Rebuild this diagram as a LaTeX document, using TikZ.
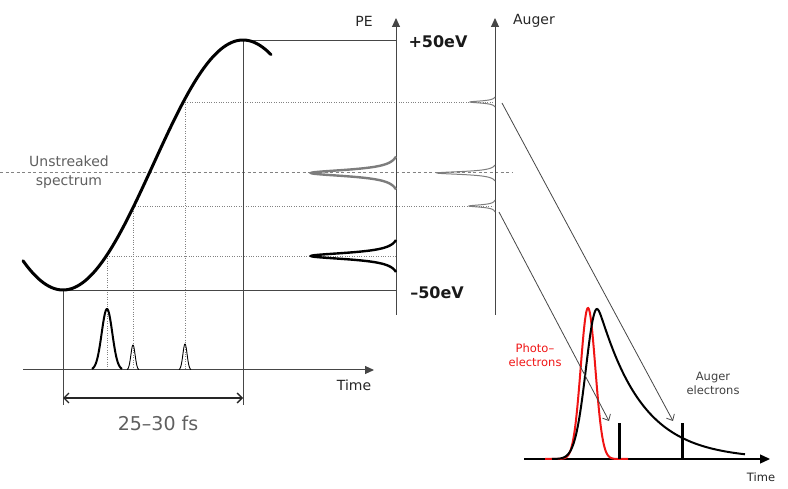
\documentclass[tikz,border=0pt]{standalone}
\usepackage{fontspec}
\setmainfont{DejaVu Sans}
\usetikzlibrary{arrows.meta}
\definecolor{txtgray}{RGB}{95,95,95}
\definecolor{linegray}{RGB}{70,70,70}
\definecolor{peakgray}{RGB}{125,125,125}
\definecolor{dotgray}{RGB}{130,130,130}
\definecolor{pered}{RGB}{240,20,20}
\begin{document}
\begin{tikzpicture}[x=1pt,y=-1pt,
  declare function={pk(\t,\w,\e)=(1/(1+(\t/\w)^2)-1/(1+(\e/\w)^2))/(1-1/(1+(\e/\w)^2));},
  thinline/.style={draw=linegray, line width=0.8pt},
  axisline/.style={draw=linegray, line width=1pt, -{Triangle[length=9pt,width=8pt]}},
  dotline/.style={draw=dotgray, line width=0.7pt, dash pattern=on 0.8pt off 1.6pt},
  dashline/.style={draw=dotgray, line width=1pt, dash pattern=on 3pt off 2.5pt},
  longarrow/.style={draw=linegray, line width=0.8pt, -{Straight Barb[length=5pt,width=9pt]}},
  lbl/.style={font=\fontsize{14}{16}\selectfont, text=black!85, inner sep=0},
  evlbl/.style={font=\fontsize{16}{18}\selectfont\bfseries, text=black!90, inner sep=0},
  smalllbl/.style={font=\fontsize{11.5}{14}\selectfont, inner sep=0, align=center},
  bar/.style={line width=3pt, draw=black},
]
\useasboundingbox (0,0) rectangle (788,489);

% key coordinates
\coordinate (min) at (63,290);
\coordinate (max) at (243,40);
\coordinate (peTop) at (396,40);
\coordinate (peBot) at (396,290);
\coordinate (minDown) at (63,405);
\coordinate (maxDown) at (243,405);
\coordinate (peAxB) at (396,315);
\coordinate (peAxT) at (396,18);
\coordinate (auAxB) at (495,315);
\coordinate (auAxT) at (495,18);
\coordinate (tAxL) at (23,370);
\coordinate (tAxR) at (374,370);
\coordinate (bL) at (63,398);
\coordinate (bR) at (243,398);

% dashed unstreaked line
\coordinate (dashL) at (0,173);
\coordinate (dashR) at (512,173);
\draw[dashline] (dashL) -- (dashR);

% dotted guide lines
\coordinate (p1) at (185,102); \coordinate (p1r) at (493,102); \coordinate (p1d) at (185,370);
\coordinate (p2) at (133,206); \coordinate (p2r) at (493,206); \coordinate (p2d) at (133,370);
\coordinate (p3) at (107,256); \coordinate (p3r) at (396,256); \coordinate (p3d) at (107,370);
\draw[dotline] (p1) -- (p1r) (p1) -- (p1d);
\draw[dotline] (p2) -- (p2r) (p2) -- (p2d);
\draw[dotline] (p3) -- (p3r) (p3) -- (p3d);

% frame lines
\draw[thinline] (max) -- (peTop);
\draw[thinline] (min) -- (peBot);
\draw[thinline] (min) -- (minDown);
\draw[thinline] (max) -- (maxDown);

% axes
\draw[axisline] (peAxB) -- (peAxT);
\draw[axisline] (auAxB) -- (auAxT);
\draw[axisline] (tAxL) -- (tAxR);

% vector potential
\draw[line width=3pt, line cap=round] plot[domain=23:271, samples=120, smooth] (\x,{165+125*cos(\x-63)});

% PE peaks
\draw[line width=2.4pt, draw=peakgray] plot[domain=-16.5:16.5, samples=121] ({396-85*pk(\x,4,16.5)},{173+\x});
\draw[line width=2.4pt, draw=black] plot[domain=-16:16, samples=121] ({396-85*pk(\x,4,16)},{256+\x});

% Auger peaks
\draw[line width=1pt, draw=peakgray] plot[domain=-5:5, samples=101] ({495-25*pk(\x,1.3,5)},{102+\x});
\draw[line width=1pt, draw=peakgray] plot[domain=-8:8, samples=121] ({495-58*pk(\x,1.8,8)},{173+\x});
\draw[line width=1pt, draw=peakgray] plot[domain=-6:6, samples=101] ({495-26*pk(\x,1.4,6)},{206+\x});

% pulses on time axis
\draw[line width=2pt] plot[domain=92:122, samples=80, smooth] (\x,{370-61*exp(-((\x-107)/5.3)^2/2)});
\draw[line width=0.9pt] plot[domain=127:139, samples=60, smooth] (\x,{370-25*exp(-((\x-133)/2.1)^2/2)});
\draw[line width=0.9pt] plot[domain=179:191, samples=60, smooth] (\x,{370-26*exp(-((\x-185)/2.1)^2/2)});

% bracket
\draw[draw=black!85, line width=1.3pt, {Straight Barb[length=5pt,width=10pt]}-{Straight Barb[length=5pt,width=10pt]}] (bL) -- (bR);

% labels left part
\node[lbl] (pe) at (364,21) {PE};
\node[lbl] (auger) at (534,21) {Auger};
\node[evlbl] (plus) at (438,42) {+50eV};
\node[evlbl] (minus) at (437,293) {–50eV};
\node[lbl, text=txtgray, align=center, font=\fontsize{14}{19}\selectfont] (unstr) at (69,172) {Unstreaked\\spectrum};
\node[lbl] (time1) at (354,385) {Time};
\node[inner sep=0, text=txtgray, font=\fontsize{19}{22}\selectfont] (fs) at (158,423) {25–30 fs};

% lower right plot
\coordinate (bAxL) at (524,459);
\coordinate (bAxR) at (770,459);
\draw[draw=black, line width=1.3pt, -{Triangle[length=10pt,width=9pt]}] (bAxL) -- (bAxR);
\draw[line width=2pt, draw=pered] plot[domain=545:628, samples=120, smooth] (\x,{459-151*exp(-((\x-588)/7.3)^2/2)});
\draw[line width=2pt, draw=black] plot[domain=552:597, samples=60, smooth] (\x,{459-150*exp(-((\x-597)/11)^2/2)})
  -- plot[domain=597:745, samples=150, smooth] (\x,{459-150*exp(-(sqrt(0.0841+((\x-597)/10)^2)*10-2.9)/42)});
\coordinate (bar1t) at (619,423); \coordinate (bar1b) at (619,459);
\coordinate (bar2t) at (682,423); \coordinate (bar2b) at (682,459);
\draw[bar] (bar1t) -- (bar1b);
\draw[bar] (bar2t) -- (bar2b);
\node[smalllbl, text=pered] (photo) at (535,355) {Photo–\\electrons};
\node[smalllbl, text=black!75] (augerel) at (713,383) {Auger\\electrons};
\node[smalllbl, text=black!85] (time2) at (761,477) {Time};

% long arrows
\coordinate (a1s) at (502,103); \coordinate (a1e) at (673,421);
\coordinate (a2s) at (499,212); \coordinate (a2e) at (609,421);
\draw[longarrow] (a1s) -- (a1e);
\draw[longarrow] (a2s) -- (a2e);
\end{tikzpicture}
\end{document}
